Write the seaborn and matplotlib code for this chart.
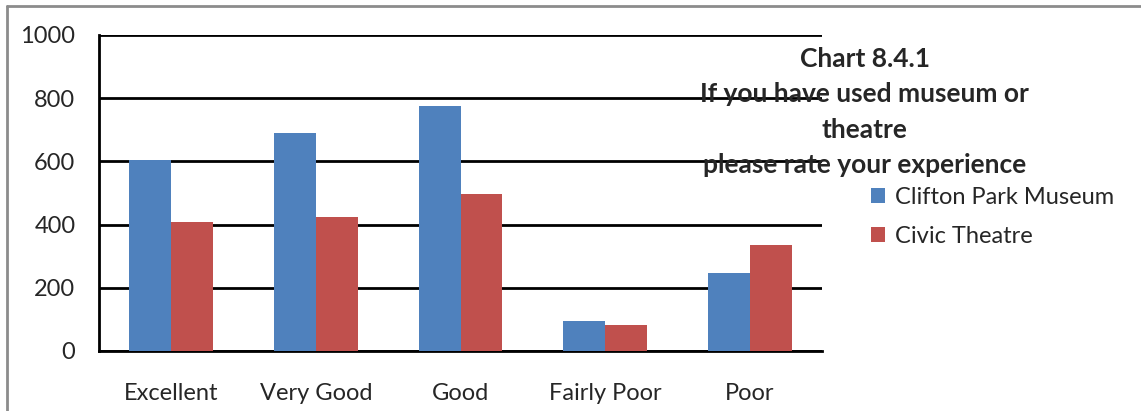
import pandas as pd
import seaborn as sns
import matplotlib.pyplot as plt
from matplotlib.lines import Line2D

ratings = ["Excellent", "Very Good", "Good", "Fairly Poor", "Poor"]
museum = [604, 690, 775, 95, 247]
theatre = [409, 424, 497, 82, 335]
series = ["Clifton Park Museum", "Civic Theatre"]

df = pd.DataFrame({
    "rating": ratings * 2,
    "count": museum + theatre,
    "venue": [series[0]] * len(ratings) + [series[1]] * len(ratings),
})

sns.set_style("white")
plt.rcParams['font.family'] = ['Lato', 'DejaVu Sans']

fig = plt.figure(figsize=(11.41, 4.11), dpi=100)
ax = fig.add_axes([0.0868, 0.146, 0.6336, 0.769])

sns.barplot(data=df, x="rating", y="count", hue="venue",
            palette=["#4F81BD", "#C0504D"], width=0.58,
            saturation=1, linewidth=0, ax=ax, zorder=3)

ax.set_ylim(0, 1000)
ax.set_xlim(-0.5, 4.5)
ax.set_yticks(range(0, 1001, 200))
ax.yaxis.grid(True, color="black", linewidth=2, zorder=0)
ax.set_axisbelow(True)
ax.set_xlabel("")
ax.set_ylabel("")

ax.set_xticks([i - 0.5 for i in range(6)], minor=False)
ax.set_xticklabels([])
ax.set_xticks(range(5), minor=True)
ax.set_xticklabels(ratings, minor=True, fontsize=17)
ax.tick_params(axis="x", which="major", direction="out", length=7, width=2, color="black")
ax.tick_params(axis="x", which="minor", length=0, pad=23)
ax.tick_params(axis="y", direction="out", length=7, width=2, color="black", labelsize=17, pad=10)

for side in ["top", "right"]:
    ax.spines[side].set_visible(False)
for side in ["left", "bottom"]:
    ax.spines[side].set_color("black")
    ax.spines[side].set_linewidth(2)

leg = ax.legend(loc="upper left", bbox_to_anchor=(1.055, 0.55), frameon=False,
                fontsize=17, handlelength=0.6, handleheight=0.6,
                handletextpad=0.4, labelspacing=0.78, borderaxespad=0)

fig.text(0.758, 0.886, "Chart 8.4.1\nIf you have used museum or\ntheatre\nplease rate your experience",
         ha="center", va="top", fontsize=19, fontweight="bold", linespacing=1.57)

fig.add_artist(Line2D([0.0061, 1.0], [0.9866, 0.9866], color="#8C8C8C", linewidth=2))
fig.add_artist(Line2D([0.0061, 0.0061], [0.0, 0.9866], color="#8C8C8C", linewidth=2))

fig.savefig("out.png", dpi=100)
